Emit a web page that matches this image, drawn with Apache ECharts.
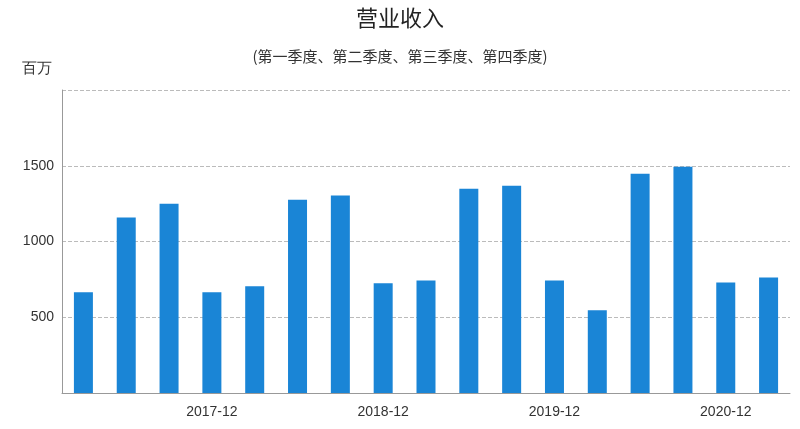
<!DOCTYPE html>
<html><head><meta charset="utf-8">
<script src="https://cdn.jsdelivr.net/npm/echarts@6/dist/echarts.min.js"></script>
<style>html,body{margin:0;padding:0;background:#fff}#c{width:800px;height:429px}</style>
</head><body><div id="c"></div>
<script>
var categories = ['2017-03','2017-06','2017-09','2017-12','2018-03','2018-06','2018-09','2018-12',
  '2019-03','2019-06','2019-09','2019-12','2020-03','2020-06','2020-09','2020-12','2021-03'];
var revenue = [665,1158,1250,665,704,1276,1303,724,743,1349,1368,743,546,1447,1494,730,763];

var chart = echarts.init(document.getElementById('c'));
chart.setOption({
  title: {
    text: '营业收入', subtext: '(第一季度、第二季度、第三季度、第四季度)',
    left: 'center', top: 2, itemGap: 20,
    textStyle: {fontSize: 22, fontWeight: 'normal', color: '#222', fontFamily: 'Noto Sans CJK SC'},
    subtextStyle: {fontSize: 15, color: '#333', fontFamily: 'Noto Sans CJK SC'}
  },
  grid: {left: 62, right: 10, top: 90, bottom: 36},
  xAxis: {
    type: 'category', data: categories,
    axisLine: {lineStyle: {color: '#999'}},
    axisTick: {show: false},
    axisLabel: {
      interval: function (i) { return i % 4 === 3; },
      color: '#333', fontSize: 14, margin: 12
    }
  },
  yAxis: {
    type: 'value', min: 0, max: 2000, interval: 500,
    name: '百万', nameLocation: 'end', nameGap: 14,
    nameTextStyle: {color: '#333', fontSize: 15, align: 'right', padding: [0, 10, 0, 0]},
    axisLine: {show: true, lineStyle: {color: '#999'}},
    axisLabel: {
      color: '#333', fontSize: 14,
      formatter: function (v) { return (v === 0 || v === 2000) ? '' : v; }
    },
    splitLine: {lineStyle: {type: 'dashed', color: '#bbb'}}
  },
  series: [{
    type: 'bar', data: revenue, barWidth: 19,
    itemStyle: {color: '#1a85d6'}
  }]
});
</script></body></html>
